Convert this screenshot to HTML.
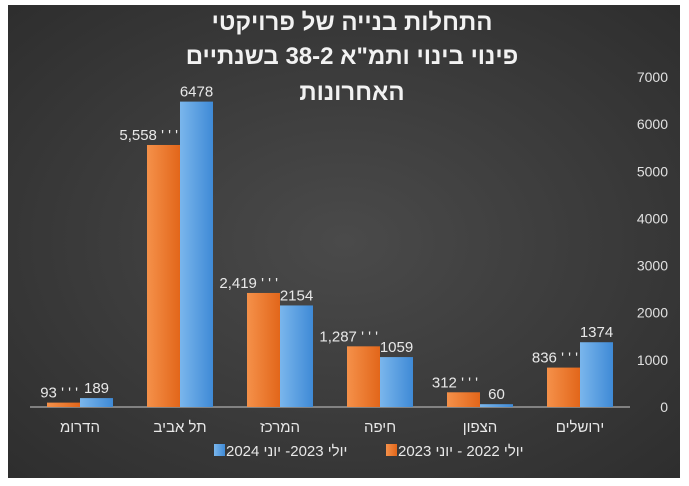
<!DOCTYPE html>
<html><head><meta charset="utf-8">
<style>
html,body{margin:0;padding:0;background:#fff;width:689px;height:486px;overflow:hidden}
svg{display:block;font-family:"Liberation Sans","DejaVu Sans",sans-serif}
svg text{unicode-bidi:bidi-override;direction:ltr}
</style></head>
<body>
<svg id="chart" width="689" height="486" viewBox="0 0 689 486" xmlns="http://www.w3.org/2000/svg">
<defs>
<radialGradient id="bg" cx="50%" cy="50%" r="70%">
<stop offset="0" stop-color="#4a4a4a"/><stop offset="1" stop-color="#2e2e2e"/>
</radialGradient>
<linearGradient id="og" x1="0" x2="1" y1="0" y2="0"><stop offset="0" stop-color="#f5914a"/><stop offset="1" stop-color="#e2661a"/></linearGradient>
<linearGradient id="bl" x1="0" x2="1" y1="0" y2="0"><stop offset="0" stop-color="#7ab6ec"/><stop offset="1" stop-color="#3f8ad6"/></linearGradient>
</defs>
<rect x="8" y="5" width="672" height="473" fill="url(#bg)"/>
<g fill="#f2f2f2" font-weight="bold" font-size="24" text-anchor="middle">
<text x="352" y="30">&#x202D;יטקיורפ לש היינב תולחתה&#x202C;</text>
<text x="352" y="64">&#x202D;םייתנשב  38-2 א"מתו יוניב יוניפ&#x202C;</text>
<text x="352" y="100">&#x202D;תונורחאה&#x202C;</text>
</g>
<g id="axis"></g>
<g id="bars"></g>
<g id="labels"></g>
<g font-size="15" fill="#e8e8e8">
<rect x="214" y="444" width="11" height="12" fill="url(#bl)"/>
<text x="226" y="456">&#x202D;2024 ינוי -2023 ילוי&#x202C;</text>
<rect x="386" y="444" width="11" height="12" fill="url(#og)"/>
<text x="398" y="456">&#x202D;2023 ינוי - 2022 ילוי&#x202C;</text>
</g>
</svg>
<script>
const categories = ["מורדה","ביבא לת","זכרמה","הפיח","ןופצה","םילשורי"];
const series2023 = [93,5558,2419,1287,312,836];
const series2024 = [189,6478,2154,1059,60,1374];
const labels2023 = ["93","5,558","2,419","1,287","312","836"];
const labels2024 = ["189","6478","2154","1059","60","1374"];
const yTicks = [0,1000,2000,3000,4000,5000,6000,7000];

const NS="http://www.w3.org/2000/svg";
const LRO="\u202D", PDF="\u202C";
const plotL=30, plotR=630, y0=407, yTop=77, yMax=7000;
const catW=(plotR-plotL)/categories.length, barW=33;
const yS=v=>y0-(v/yMax)*(y0-yTop);
const xC=i=>plotL+catW*(i+0.5);
function mk(tag,attrs,parent){const e=document.createElementNS(NS,tag);for(const k in attrs)e.setAttribute(k,attrs[k]);parent.appendChild(e);return e;}
const axis=document.getElementById('axis'), bars=document.getElementById('bars'), lab=document.getElementById('labels');

yTicks.forEach(t=>{
  const e=mk('text',{x:668,y:yS(t)+5,'text-anchor':'end','font-size':14,fill:'#e0e0e0'},axis);
  
  
  e.textContent=t;
});
const base=mk('line',{x1:plotL,x2:plotR,y1:y0,y2:y0,stroke:'#9a9a9a','stroke-width':1.5},axis);



categories.forEach((c,i)=>{
  const cx=xC(i);
  const ct=mk('text',{x:cx,y:432,'text-anchor':'middle','font-size':15,fill:'#e8e8e8'},axis);
  
  
  ct.textContent=LRO+c+PDF;

  const oy=yS(series2023[i]);
  const ob=mk('rect',{x:cx-barW,y:oy,width:barW,height:y0-oy,fill:'url(#og)'},bars);
  
  
  const by=yS(series2024[i]);
  const bb=mk('rect',{x:cx,y:by,width:barW,height:y0-by,fill:'url(#bl)'},bars);
  
  

  const ol=mk('text',{x:cx-2,y:oy-5,'text-anchor':'end','font-size':15,fill:'#e8e8e8'},lab);
  
  
  ol.textContent=labels2023[i]+" ' ' '";
  const bl=mk('text',{x:cx+barW/2,y:by-5,'text-anchor':'middle','font-size':15,fill:'#e8e8e8'},lab);
  
  
  bl.textContent=labels2024[i];
});
</script>
</body></html>
